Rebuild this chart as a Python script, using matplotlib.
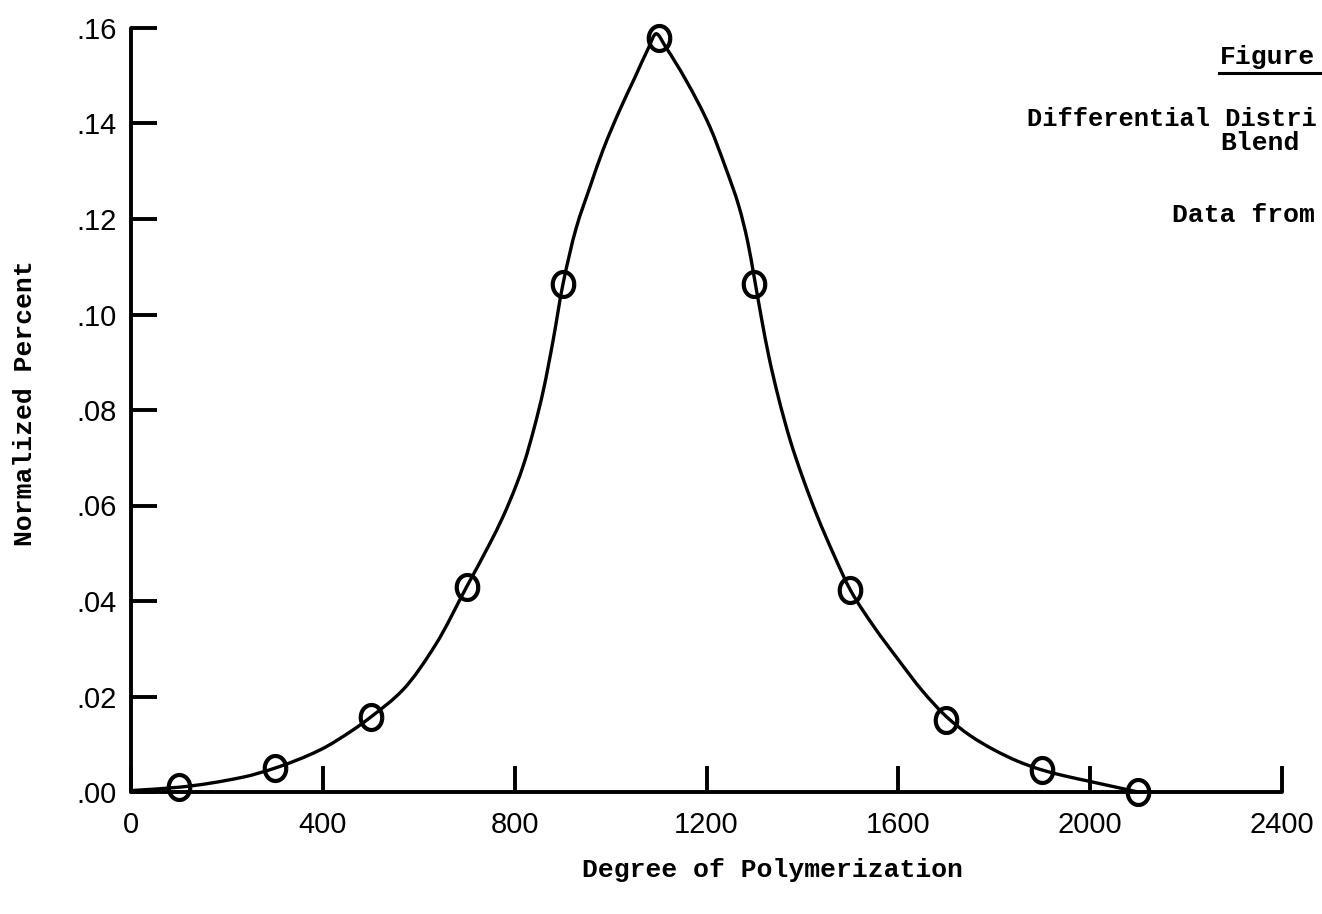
import matplotlib
matplotlib.use("Agg")
import matplotlib.pyplot as plt
import numpy as np
from matplotlib.path import Path
from matplotlib.patches import PathPatch

# ---- data ----
dp_points = [100, 300, 500, 700, 900, 1100, 1300, 1500, 1700, 1900, 2100]
pct_points = [0.001, 0.005, 0.0157, 0.043, 0.1064, 0.158, 0.1064, 0.0423, 0.0151, 0.0046, 0.0]

# hand-drawn curve
curve_dp = [0, 100, 233, 300, 394, 463, 500, 567, 636, 700, 748, 775, 803, 820,
            840, 860, 880, 900, 928, 957, 984, 1019, 1051, 1078, 1095,
            1115, 1157, 1207, 1240, 1268, 1286, 1300, 1315, 1330, 1350, 1375,
            1400, 1430, 1465, 1500, 1550, 1600, 1650, 1700, 1750, 1800, 1850,
            1900, 1950, 2000, 2050, 2100]
curve_pct = [0.0003, 0.001, 0.0031, 0.005, 0.0088, 0.013, 0.0157, 0.0214, 0.031,
             0.043, 0.0520, 0.0575, 0.0642, 0.0690, 0.0760, 0.0842, 0.0945, 0.1060,
             0.1180, 0.1267, 0.1344, 0.1428, 0.1497, 0.1556, 0.1588,
             0.1560, 0.1491, 0.1393, 0.1307, 0.1225, 0.1152, 0.1075, 0.0990,
             0.0912, 0.0826, 0.0735, 0.0660, 0.0580, 0.0498, 0.0423, 0.0345,
             0.0277, 0.0212, 0.0158, 0.0118, 0.0088, 0.0064, 0.0046, 0.0033,
             0.0022, 0.0011, 0.0]

x_ticks = [0, 400, 800, 1200, 1600, 2000, 2400]
x_tick_labels = ["0", "400", "800", "1200", "1600", "2000", "2400"]
y_ticks = [0.00, 0.02, 0.04, 0.06, 0.08, 0.10, 0.12, 0.14, 0.16]
y_tick_labels = [".00", ".02", ".04", ".06", ".08", ".10", ".12", ".14", ".16"]

x_label = "Degree of Polymerization"
y_label = "Normalized Percent"
note_lines = ["Figure", "Differential Distri", "Blend", "Data from"]

# ---- figure ----
W, H = 1322, 914
fig = plt.figure(figsize=(W / 100, H / 100), dpi=100)
fig.patch.set_facecolor("white")

def fx(px):
    return px / W

def fy(py):
    return 1 - py / H

ax = fig.add_axes([fx(131), fy(792), (1282 - 131) / W, (792 - 28) / H])
ax.set_xlim(0, 2400)
ax.set_ylim(0, 0.16)

for s in ("top", "right"):
    ax.spines[s].set_visible(False)
for s in ("left", "bottom"):
    ax.spines[s].set_linewidth(2.8)
    ax.spines[s].set_color("black")
    ax.spines[s].set_capstyle("round")

tick_font = dict(family=["Liberation Sans", "DejaVu Sans"], size=21)
mono = ["Liberation Mono", "DejaVu Sans Mono"]

ax.set_xticks(x_ticks)
ax.set_xticklabels(x_tick_labels, fontdict=tick_font)
ax.set_yticks(y_ticks)
ax.set_yticklabels(y_tick_labels, fontdict=tick_font)
ax.tick_params(axis="x", direction="in", length=19, width=2.8, pad=14, colors="black")
ax.tick_params(axis="y", direction="in", length=19, width=2.8, pad=10, colors="black")

# smooth hand-drawn curve: cubic Bezier through the read points (monotone tangents)
xs = np.asarray(curve_dp, float)
ys = np.asarray(curve_pct, float)
d = np.diff(ys) / np.diff(xs)
m = np.zeros_like(ys)
m[0], m[-1] = d[0], d[-1]
for i in range(1, len(ys) - 1):
    if d[i - 1] * d[i] > 0:
        w1 = 2 * (xs[i + 1] - xs[i]) + (xs[i] - xs[i - 1])
        w2 = (xs[i + 1] - xs[i]) + 2 * (xs[i] - xs[i - 1])
        m[i] = (w1 + w2) / (w1 / d[i - 1] + w2 / d[i])
verts = [(xs[0], ys[0])]
codes = [Path.MOVETO]
for i in range(len(xs) - 1):
    h = xs[i + 1] - xs[i]
    verts += [(xs[i] + h / 3, ys[i] + m[i] * h / 3),
              (xs[i + 1] - h / 3, ys[i + 1] - m[i + 1] * h / 3),
              (xs[i + 1], ys[i + 1])]
    codes += [Path.CURVE4] * 3
ax.add_patch(PathPatch(Path(verts, codes), facecolor="none", edgecolor="black",
                       lw=2.4, capstyle="round", joinstyle="round",
                       clip_on=False, zorder=3))

# hand-drawn-like oval open markers
t = np.linspace(0, 2 * np.pi, 60)
oval = Path(np.column_stack([0.86 * np.cos(t), np.sin(t)]))
ax.plot(dp_points, pct_points, linestyle="none", marker=oval, markersize=18,
        markerfacecolor="none", markeredgecolor="black", markeredgewidth=3.0,
        clip_on=False, zorder=4)

ax.set_xlabel(x_label, fontfamily=mono, fontsize=19, fontweight="bold", va="center")
ax.xaxis.set_label_coords((772 - 131) / 1151, -(870 - 792) / 764)
ax.set_ylabel(y_label, fontfamily=mono, fontsize=19, fontweight="bold", va="center")
ax.yaxis.set_label_coords((25 - 131) / 1151, (792 - 403) / 764)

# annotation block at upper right (cut off at the page edge in the original)
fig.text(fx(1220), fy(57), note_lines[0], fontfamily=mono, fontsize=19,
         fontweight="bold", ha="left", va="center")
fig.add_artist(plt.Line2D([fx(1219), fx(1322)], [fy(73), fy(73)], color="black", lw=2.2))
fig.text(fx(1027), fy(119), note_lines[1], fontfamily=mono, fontsize=18.3,
         fontweight="bold", ha="left", va="center")
fig.text(fx(1220), fy(143), note_lines[2], fontfamily=mono, fontsize=19,
         fontweight="bold", ha="left", va="center")
fig.text(fx(1172), fy(215), note_lines[3], fontfamily=mono, fontsize=19,
         fontweight="bold", ha="left", va="center")

fig.savefig("out.png", dpi=100, facecolor="white")
